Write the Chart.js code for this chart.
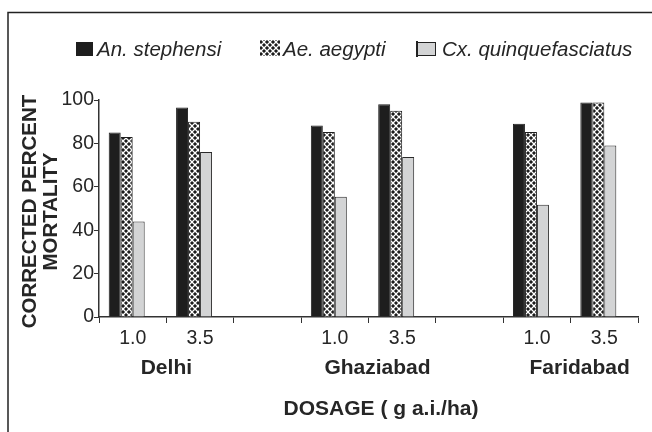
<!DOCTYPE html>
<html>
<head>
<meta charset="utf-8">
<script src="https://cdn.jsdelivr.net/npm/chart.js@4/dist/chart.umd.min.js"></script>
<style>
  body { margin: 0; background: #fff; }
  #wrap { width: 652px; height: 432px; }
</style>
</head>
<body>
<div id="wrap"><canvas id="mortChart" width="652" height="432"></canvas></div>
<script>
// dosage categories (blank slots separate the towns)
var dosages = ['1.0', '3.5', '', '1.0', '3.5', '', '1.0', '3.5'];
var towns = ['Delhi', 'Ghaziabad', 'Faridabad'];
var townFirstSlot = [0, 3, 6];

// corrected percent mortality
var stephensi = [85, 96.5, null, 88.3, 98, null, 89, 98.8];
var aegypti = [83, 90, null, 85.2, 95, null, 85.2, 98.8];
var quinque = [44, 76, null, 55.4, 73.7, null, 51.7, 79];
var spacer = [null, null, null, null, null, null, null, null];

var seriesNames = ['An. stephensi', 'Ae. aegypti', 'Cx. quinquefasciatus'];

var TEXT = '#262626';
var FONT = 'Liberation Sans, Arial, Helvetica, sans-serif';

function weavePattern() {
  var c = document.createElement('canvas');
  c.width = 6; c.height = 6;
  var g = c.getContext('2d');
  g.fillStyle = '#1c1c1c';
  g.fillRect(0, 0, 6, 6);
  g.strokeStyle = '#ffffff';
  g.lineWidth = 1.3;
  g.beginPath();
  g.moveTo(-1, -1); g.lineTo(7, 7);
  g.moveTo(7, -1); g.lineTo(-1, 7);
  g.stroke();
  return g.createPattern(c, 'repeat');
}

var hatch = weavePattern();

// frame, legend, town labels and axis titles
var decorPlugin = {
  id: 'decor',
  afterDraw: function (chart) {
    var ctx = chart.ctx;
    var x = chart.scales.x;
    var area = chart.chartArea;
    ctx.save();

    // frame (left and top edges visible)
    ctx.strokeStyle = '#222';
    ctx.lineWidth = 1.5;
    ctx.beginPath();
    ctx.moveTo(8, 432);
    ctx.lineTo(8, 12.5);
    ctx.lineTo(652, 12.5);
    ctx.stroke();

    // legend
    var ds = chart.data.datasets;
    ctx.font = 'italic 20.5px ' + FONT;
    ctx.fillStyle = TEXT;
    ctx.textBaseline = 'alphabetic';
    ctx.textAlign = 'left';

    ctx.fillStyle = ds[0].backgroundColor;
    ctx.fillRect(76, 42, 17, 14);
    ctx.fillStyle = TEXT;
    ctx.fillText(ds[0].label, 97, 56);

    ctx.fillStyle = ds[1].backgroundColor;
    ctx.fillRect(260, 40, 20, 16);
    ctx.fillStyle = TEXT;
    ctx.fillText(ds[1].label, 283, 56);

    ctx.fillStyle = ds[2].backgroundColor;
    ctx.fillRect(417, 42, 19, 14);
    ctx.strokeStyle = '#222';
    ctx.lineWidth = 1;
    ctx.strokeRect(417.5, 42.5, 18, 13);
    ctx.fillStyle = '#222';
    ctx.fillRect(416, 41, 2, 16);
    ctx.fillStyle = TEXT;
    ctx.fillText(ds[2].label, 442, 56);

    // town labels under each pair of dosages
    ctx.font = 'bold 21px ' + FONT;
    ctx.textAlign = 'center';
    ctx.textBaseline = 'middle';
    towns.forEach(function (t, i) {
      var s = townFirstSlot[i];
      var cx = (x.getPixelForValue(s) + x.getPixelForValue(s + 1)) / 2;
      ctx.fillText(t, cx + (i === 0 ? 0 : 9), 368);
    });

    // x title
    ctx.fillText('DOSAGE ( g a.i./ha)', 381, 409);

    // y title
    ctx.font = 'bold 20.5px ' + FONT;
    ctx.translate(40, (area.top + area.bottom) / 2 + 3);
    ctx.rotate(-Math.PI / 2);
    ctx.fillText('CORRECTED PERCENT', 0, -10);
    ctx.fillText('MORTALITY', 0, 11);

    ctx.restore();
  }
};

var ctx = document.getElementById('mortChart').getContext('2d');
new Chart(ctx, {
  type: 'bar',
  data: {
    labels: dosages,
    datasets: [
      {
        label: seriesNames[0],
        data: stephensi,
        backgroundColor: '#1e1e1e',
        borderColor: '#1e1e1e',
        borderWidth: 1
      },
      {
        label: seriesNames[1],
        data: aegypti,
        backgroundColor: hatch,
        borderColor: '#1e1e1e',
        borderWidth: 1
      },
      {
        label: seriesNames[2],
        data: quinque,
        backgroundColor: '#d3d4d5',
        borderColor: '#2a2a2a',
        borderWidth: 1
      },
      {
        // empty slot that pushes each trio a little left, as in the original
        label: '',
        data: spacer,
        backgroundColor: 'rgba(0,0,0,0)'
      }
    ]
  },
  options: {
    responsive: false,
    devicePixelRatio: 1,
    animation: false,
    datasets: {
      bar: {
        categoryPercentage: 0.712,
        barPercentage: 1
      }
    },
    layout: {
      padding: { top: 100, right: 14, left: 0, bottom: 0 }
    },
    plugins: {
      legend: { display: false },
      tooltip: { enabled: false },
      title: { display: false }
    },
    scales: {
      x: {
        afterFit: function (scale) { scale.height = 115; },
        grid: {
          drawOnChartArea: false,
          drawTicks: true,
          tickLength: 6,
          color: '#333',
          offset: true
        },
        border: { display: true, color: '#333', width: 1.5 },
        ticks: {
          autoSkip: false,
          maxRotation: 0,
          padding: 4,
          color: TEXT,
          font: { family: FONT, size: 19.5 }
        }
      },
      y: {
        min: 0,
        max: 100,
        afterFit: function (scale) { scale.width = 99; },
        grid: {
          drawOnChartArea: false,
          drawTicks: true,
          tickLength: 5,
          color: '#333'
        },
        border: { display: true, color: '#333', width: 1.5 },
        ticks: {
          stepSize: 20,
          padding: 0,
          color: TEXT,
          font: { family: FONT, size: 19.5 }
        }
      }
    }
  },
  plugins: [decorPlugin]
});
</script>
</body>
</html>
